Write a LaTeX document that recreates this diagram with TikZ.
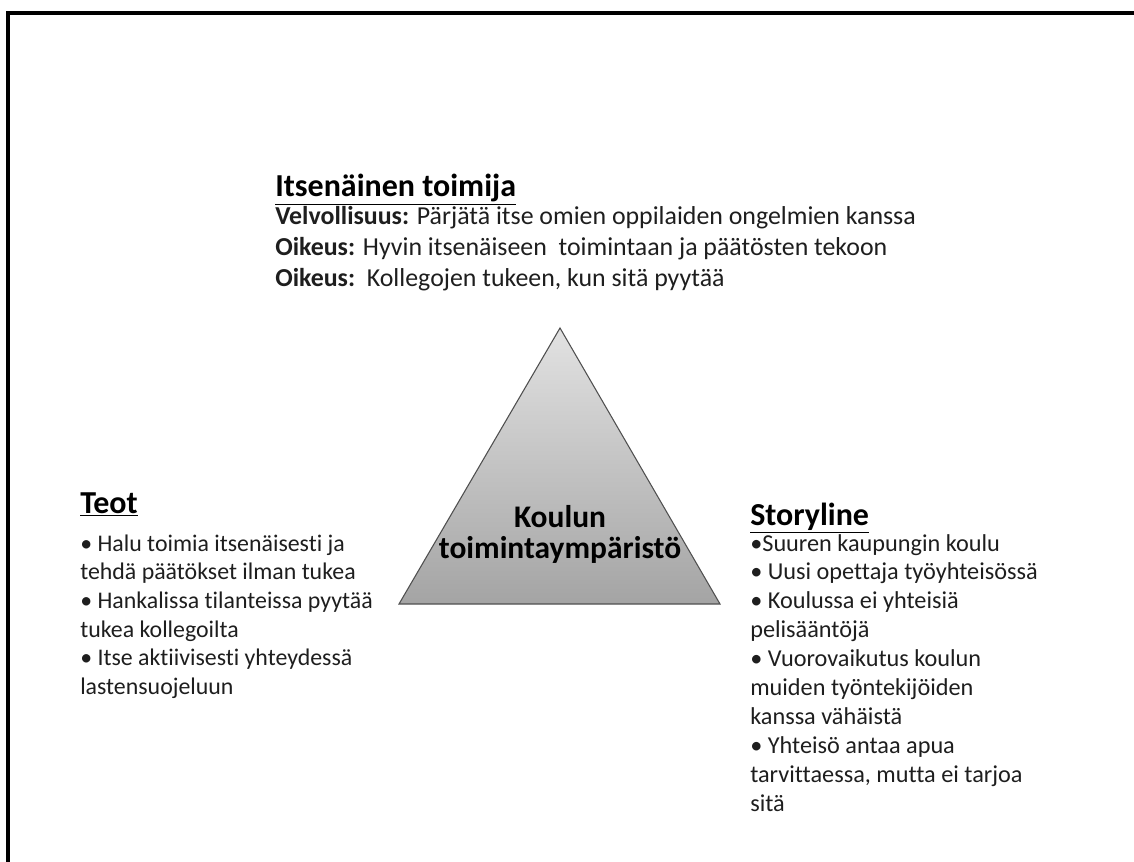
\documentclass[tikz,border=0pt]{standalone}
\usepackage{fontspec}
\setmainfont{Carlito}[Ligatures=NoCommon]
\newcommand{\lines}[1]{\begin{tabular}[t]{@{}l@{}}#1\end{tabular}}
\definecolor{bodyink}{RGB}{30,30,30}
\begin{document}
\begin{tikzpicture}[x=0.75pt,y=-0.75pt,
  heading/.style={anchor=base west,inner sep=0pt,font=\bfseries\fontsize{24}{29}\selectfont},
  body/.style={anchor=base west,inner sep=0pt,text=bodyink},
  frameline/.style={line width=2.4pt,black},
  edge/.style={draw={rgb,255:red,80;green,80;blue,80},line width=0.8pt},
  tri/.style={top color={rgb,255:red,226;green,226;blue,226},
    bottom color={rgb,255:red,164;green,164;blue,164}}]
\useasboundingbox (0,0) rectangle (1134,862);

% corner frame: top and left edges only
\coordinate (fb) at (8,870);
\coordinate (fc) at (8,13);
\coordinate (fr) at (1140,13);
\draw[frameline] (fb) -- (fc) -- (fr);

% central triangle
\coordinate (apex) at (560,328);
\coordinate (bl) at (399,604);
\coordinate (br) at (720,604);
\shade[tri] (apex) -- (br) -- (bl) -- cycle;
\draw[edge] (apex) -- (br) -- (bl) -- cycle;
\node[body,anchor=base,text=black,font=\bfseries\fontsize{23.6}{23.25}\selectfont] (env) at (560,527)
  {\begin{tabular}[t]{@{}c@{}}Koulun\\toimintaympäristö\end{tabular}};

% top block
\node[heading] (itse) at (275,197) {\underline{Itsenäinen toimija}};
\node[body,font=\fontsize{19.4}{23.25}\selectfont] (itsebody) at (275,225)
  {\lines{\textbf{Velvollisuus:} Pärjätä itse omien oppilaiden ongelmien kanssa\\
   \textbf{Oikeus:} Hyvin itsenäiseen\ \ toimintaan ja päätösten tekoon\\
   \textbf{Oikeus:}\ \ Kollegojen\ tukeen, kun sitä pyytää}};

% left block
\node[heading] (teot) at (80,513) {\underline{Teot}};
\node[body,font=\fontsize{17.9}{21.5}\selectfont] (teotbody) at (80,551)
  {\lines{• Halu toimia itsenäisesti ja\\
   tehdä päätökset ilman tukea\\
   • Hankalissa tilanteissa pyytää\\
   tukea kollegoilta\\
   • Itse aktiivisesti yhteydessä\\
   lastensuojeluun}};

% right block
\node[heading] (story) at (750,525) {\underline{Storyline}};
\node[body,font=\fontsize{18.2}{21.7}\selectfont] (storybody) at (750,551)
  {\lines{•Suuren kaupungin koulu\\
   • Uusi opettaja työyhteisössä\\
   • Koulussa ei yhteisiä\\
   pelisääntöjä\\
   • Vuorovaikutus koulun\\
   muiden työntekijöiden\\
   kanssa vähäistä\\
   • Yhteisö antaa apua\\
   tarvittaessa, mutta ei tarjoa\\
   sitä}};
\end{tikzpicture}
\end{document}
